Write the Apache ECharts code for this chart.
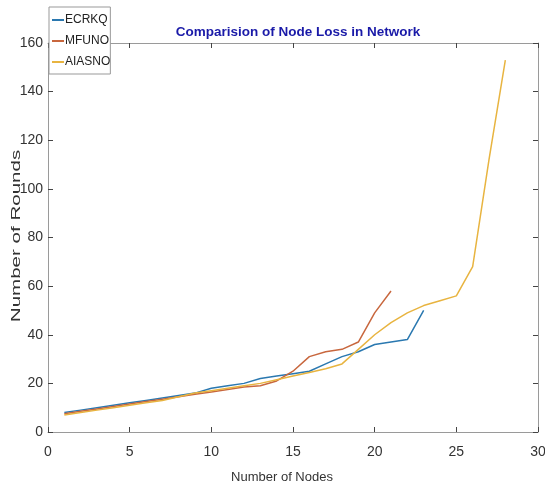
<!DOCTYPE html>
<html><head><meta charset="utf-8">
<script src="https://cdn.jsdelivr.net/npm/echarts@6/dist/echarts.min.js"></script>
<style>html,body{margin:0;padding:0;background:#fff}#c{width:545px;height:491px}</style>
</head><body><div id="c"></div>
<script>
const ecrkq = [8, 9, 10, 11, 12, 13, 14, 15, 16, 18, 19, 20, 22, 23, 24, 25, 28, 31, 33, 36, 37, 38, 50];
const mfuno = [7.5, 8.5, 9.5, 10.5, 11.5, 12.5, 13.5, 14.5, 15.5, 16.5, 17.5, 18.5, 19, 21, 25, 31, 33, 34, 37, 49, 58];
const aiasno = [7, 8, 9, 10, 11, 12, 13, 14.5, 16, 17, 18, 19, 20, 21.5, 23, 24.5, 26, 28, 34, 40, 45, 49, 52, 54, 56, 68, 112, 153];
const xTicks = [0, 5, 10, 15, 20, 25, 30];
const yTicks = [0, 20, 40, 60, 80, 100, 120, 140, 160];
const names = ['ECRKQ', 'MFUNO', 'AIASNO'];
const colors = ['#2a78b0', '#c8673e', '#e8b440'];
const FONT = '"Liberation Sans",Arial,sans-serif';
const toPts = arr => arr.map((v, i) => [i + 1, v]);
const chart = echarts.init(document.getElementById('c'), null, {renderer: 'canvas'});
const axisCommon = {
  axisLine: {show: true, onZero: false, lineStyle: {color: '#9a9a9a', width: 1}},
  axisTick: {show: true, inside: true, length: 5, lineStyle: {color: '#444', width: 1}},
  splitLine: {show: false}
};
chart.setOption({
  animation: false,
  title: {text: 'Comparision of Node Loss in Network', left: 293, textAlign: 'center', top: 20,
    textStyle: {fontFamily: FONT, fontSize: 13.5, fontWeight: 'bold', color: '#1a1aa8'}},
  legend: {data: names, orient: 'vertical', left: 49, top: 7, itemWidth: 12, itemHeight: 2, itemGap: 9,
    icon: 'rect', backgroundColor: '#fff', borderColor: '#999', borderWidth: 1, padding: [7, 0, 6, 3],
    textStyle: {fontFamily: FONT, fontSize: 12, color: '#222', padding: [0, 0, 0, -4]}},
  grid: {left: 48, right: 7, top: 43, bottom: 59, containLabel: false, outerBoundsMode: 'none'},
  graphic: [{type: 'text', x: 16, y: 236, rotation: Math.PI / 2, scaleX: 1.58, scaleY: 1,
    style: {text: 'Number of Rounds', fontFamily: FONT, fontSize: 13, fill: '#333', align: 'center', verticalAlign: 'middle'}}],
  xAxis: [
    Object.assign({type: 'value', min: 0, max: 30, interval: 5, position: 'bottom',
      name: 'Number of Nodes', nameLocation: 'middle', nameGap: 39,
      nameTextStyle: {fontFamily: FONT, fontSize: 13, color: '#333', padding: [0, 22, 0, 0]},
      axisLabel: {fontFamily: FONT, fontSize: 14, color: '#333', margin: 13,
        formatter: v => xTicks.includes(v) ? String(v) : ''}}, axisCommon),
    Object.assign({type: 'value', min: 0, max: 30, interval: 5, position: 'top', axisLabel: {show: false}}, axisCommon)
  ],
  yAxis: [
    Object.assign({type: 'value', min: 0, max: 160, interval: 20, position: 'left',
      axisLabel: {fontFamily: FONT, fontSize: 14, color: '#333', margin: 5,
        formatter: v => yTicks.includes(v) ? String(v) : ''}}, axisCommon),
    Object.assign({type: 'value', min: 0, max: 160, interval: 20, position: 'right', axisLabel: {show: false}}, axisCommon)
  ],
  series: [ecrkq, mfuno, aiasno].map((d, i) => ({
    name: names[i], type: 'line', data: toPts(d), showSymbol: false, symbol: 'none',
    lineStyle: {width: 1.5, color: colors[i]}, itemStyle: {color: colors[i]}
  }))
});
</script></body></html>
